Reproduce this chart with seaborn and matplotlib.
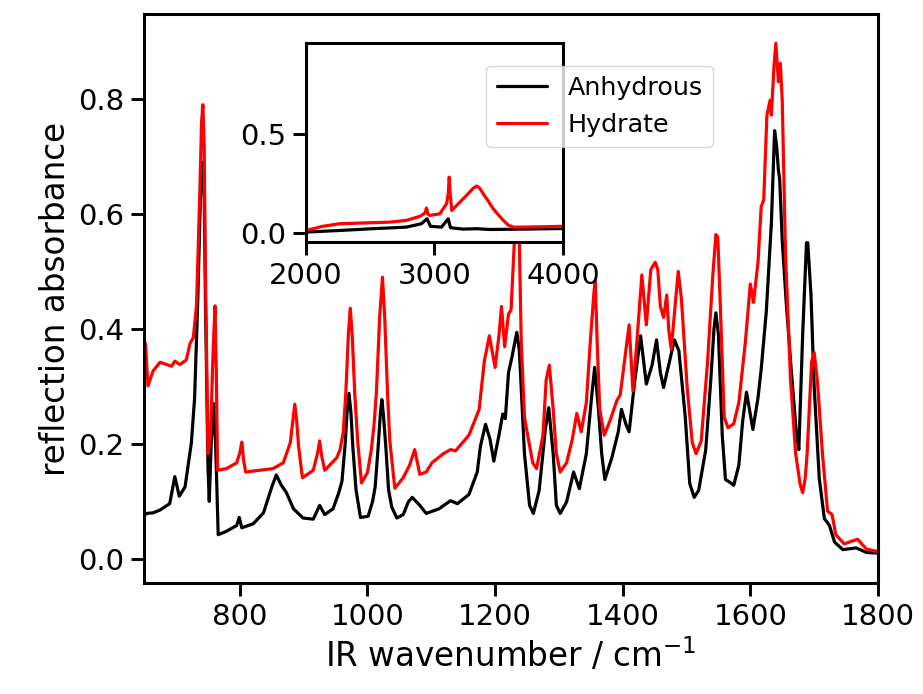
import numpy as np
import pandas as pd
import matplotlib
matplotlib.use("Agg")
import matplotlib.pyplot as plt
import seaborn as sns

# ---- data ----
wn_anhydrous = [650, 654, 664, 675, 690, 698, 705, 714, 724, 729, 734, 738, 740, 742, 744, 746,
                750, 752, 755, 759, 762, 766, 779, 795, 799, 803, 821, 837, 850, 857, 865, 873,
                884, 899, 915, 925, 933, 946, 955, 960, 965, 968, 971, 974, 977, 982, 989, 1001,
                1008, 1012, 1016.7, 1020, 1022.5, 1025, 1028.7, 1033, 1038, 1046, 1056, 1064,
                1070, 1082, 1092, 1112, 1130, 1141, 1159, 1172, 1177, 1185, 1192, 1198, 1206,
                1212, 1216, 1221, 1226, 1234, 1238, 1246, 1254, 1260, 1269, 1279, 1284, 1291,
                1296, 1302, 1312, 1323, 1332, 1343, 1351, 1356, 1362, 1367, 1372, 1383, 1393,
                1398, 1405, 1410, 1419, 1428, 1437, 1446, 1453, 1459, 1464, 1472, 1481, 1488,
                1498, 1505, 1512, 1519, 1530, 1538, 1543, 1546, 1550, 1556, 1561, 1568, 1574,
                1582, 1588, 1594, 1604, 1612, 1617, 1625, 1633, 1638, 1641, 1644, 1646, 1650,
                1656, 1664, 1672, 1676, 1682, 1688, 1690, 1695, 1700, 1708, 1716, 1724, 1732,
                1745, 1766, 1782, 1798, 1850, 1920,
                2000, 2260, 2521, 2781, 2898, 2943, 2969, 3055, 3107, 3125, 3224, 3328, 3432,
                3693, 4000]
abs_anhydrous = [0.075, 0.079, 0.080, 0.085, 0.096, 0.143, 0.109, 0.125, 0.202, 0.279, 0.45,
                 0.62, 0.67, 0.69, 0.64, 0.45, 0.16, 0.10, 0.20, 0.27, 0.20, 0.042, 0.048,
                 0.058, 0.072, 0.054, 0.061, 0.080, 0.125, 0.146, 0.128, 0.115, 0.087, 0.071,
                 0.069, 0.093, 0.077, 0.087, 0.115, 0.135, 0.20, 0.255, 0.288, 0.255, 0.195,
                 0.12, 0.072, 0.074, 0.10, 0.125, 0.195, 0.25, 0.277, 0.25, 0.195, 0.12, 0.09,
                 0.071, 0.077, 0.099, 0.107, 0.093, 0.079, 0.087, 0.101, 0.096, 0.112, 0.151,
                 0.196, 0.234, 0.208, 0.170, 0.215, 0.252, 0.244, 0.324, 0.349, 0.394, 0.362,
                 0.183, 0.093, 0.079, 0.119, 0.228, 0.263, 0.183, 0.093, 0.079, 0.099, 0.151,
                 0.122, 0.183, 0.279, 0.333, 0.26, 0.183, 0.138, 0.176, 0.221, 0.26, 0.234,
                 0.221, 0.311, 0.388, 0.304, 0.337, 0.381, 0.324, 0.298, 0.337, 0.381, 0.362,
                 0.247, 0.131, 0.107, 0.119, 0.189, 0.311, 0.40, 0.428, 0.39, 0.215, 0.138,
                 0.133, 0.128, 0.163, 0.24, 0.29, 0.225, 0.28, 0.33, 0.43, 0.585, 0.745, 0.72,
                 0.676, 0.66, 0.554, 0.45, 0.33, 0.22, 0.19, 0.39, 0.55, 0.55, 0.46, 0.30, 0.14,
                 0.07, 0.058, 0.029, 0.016, 0.019, 0.011, 0.010, 0.008, 0.006,
                 0.005, 0.013, 0.022, 0.030, 0.047, 0.072, 0.034, 0.030, 0.072, 0.027, 0.020,
                 0.022, 0.018, 0.020, 0.023]

wn_hydrate = [650, 652, 656, 664, 675, 693, 698, 706, 716, 722, 727, 732, 737, 740, 742, 744,
              746, 750, 754, 758, 761, 763, 765, 779, 795, 800, 803, 806, 809, 852, 868, 879,
              884, 886, 889, 892, 898, 915, 922, 925, 928, 933, 952, 957, 962, 966, 970, 973,
              976, 980, 984.6, 990.6, 1000, 1006, 1010, 1014, 1019, 1023.5, 1027, 1031.4, 1035,
              1042.8, 1056, 1066, 1074, 1082, 1092, 1101, 1119, 1130, 1138, 1159, 1175, 1183,
              1191, 1200, 1206, 1210, 1215, 1221, 1225, 1230, 1236, 1238, 1241, 1246, 1251,
              1259, 1265, 1275, 1280, 1285, 1291, 1296, 1302, 1312, 1321, 1328, 1335, 1343,
              1349, 1355, 1357, 1360, 1364, 1371, 1380, 1391, 1396, 1402, 1410, 1416, 1422,
              1430, 1437, 1444, 1451, 1455, 1459, 1464, 1469, 1472, 1476, 1481, 1487, 1492,
              1501, 1509, 1515, 1523, 1533, 1541, 1546, 1549, 1553, 1559, 1565, 1574, 1582,
              1592, 1600, 1605, 1612, 1617, 1621, 1626, 1631, 1633, 1637, 1640, 1644, 1647,
              1650, 1655, 1663, 1671, 1678, 1682, 1686, 1689, 1696, 1700, 1705, 1713, 1721,
              1728, 1734, 1747, 1768, 1782, 1798, 1850, 1920,
              2000, 2130, 2260, 2521, 2651, 2781, 2885, 2925, 2938, 2950, 2964, 3042, 3094,
              3108, 3115, 3122, 3135, 3172, 3250, 3300, 3328, 3350, 3380, 3420, 3458, 3500,
              3536, 3575, 3615, 3693, 4000]
abs_hydrate = [0.37, 0.375, 0.301, 0.327, 0.342, 0.335, 0.344, 0.338, 0.346, 0.375, 0.385, 0.44,
               0.63, 0.76, 0.79, 0.72, 0.50, 0.183, 0.215, 0.36, 0.44, 0.33, 0.154, 0.157, 0.167,
               0.185, 0.203, 0.17, 0.151, 0.157, 0.167, 0.202, 0.25, 0.269, 0.24, 0.196, 0.141,
               0.154, 0.185, 0.205, 0.18, 0.154, 0.176, 0.19, 0.22, 0.288, 0.39, 0.436, 0.39,
               0.288, 0.205, 0.132, 0.15, 0.19, 0.23, 0.29, 0.42, 0.49, 0.42, 0.288, 0.205,
               0.123, 0.141, 0.163, 0.19, 0.147, 0.151, 0.167, 0.183, 0.19, 0.188, 0.215, 0.26,
               0.343, 0.388, 0.333, 0.388, 0.439, 0.369, 0.426, 0.433, 0.548, 0.75, 0.55, 0.375,
               0.247, 0.215, 0.167, 0.157, 0.215, 0.311, 0.337, 0.26, 0.183, 0.151, 0.167,
               0.208, 0.253, 0.221, 0.272, 0.375, 0.465, 0.484, 0.375, 0.26, 0.215, 0.24, 0.276,
               0.285, 0.337, 0.407, 0.292, 0.375, 0.494, 0.407, 0.503, 0.516, 0.503, 0.439,
               0.42, 0.459, 0.40, 0.365, 0.426, 0.5, 0.452, 0.298, 0.202, 0.183, 0.205, 0.343,
               0.49, 0.564, 0.56, 0.439, 0.247, 0.228, 0.235, 0.272, 0.375, 0.478, 0.446, 0.516,
               0.612, 0.625, 0.772, 0.798, 0.772, 0.856, 0.897, 0.83, 0.862, 0.798, 0.535,
               0.311, 0.183, 0.13, 0.115, 0.14, 0.183, 0.343, 0.359, 0.311, 0.183, 0.083, 0.077,
               0.042, 0.026, 0.034, 0.017, 0.013, 0.012, 0.012,
               0.013, 0.034, 0.047, 0.052, 0.055, 0.064, 0.084, 0.10, 0.126, 0.095, 0.089,
               0.097, 0.148, 0.20, 0.282, 0.20, 0.114, 0.139, 0.19, 0.225, 0.237, 0.228, 0.198,
               0.16, 0.122, 0.09, 0.064, 0.04, 0.030, 0.030, 0.034]

series_names = ["Anhydrous", "Hydrate"]
series_colors = ["black", "red"]

df = pd.concat([
    pd.DataFrame({"wavenumber": wn_anhydrous, "absorbance": abs_anhydrous, "sample": series_names[0]}),
    pd.DataFrame({"wavenumber": wn_hydrate, "absorbance": abs_hydrate, "sample": series_names[1]}),
], ignore_index=True)
palette = dict(zip(series_names, series_colors))

# ---- style ----
sns.set_style("ticks", {"axes.edgecolor": "black", "xtick.color": "black",
                        "ytick.color": "black", "text.color": "black",
                        "axes.labelcolor": "black"})
plt.rcParams["font.family"] = ["DejaVu Sans"]
plt.rcParams["axes.linewidth"] = 2.2
for ax_ in ("xtick", "ytick"):
    plt.rcParams[f"{ax_}.major.size"] = 9.4
    plt.rcParams[f"{ax_}.major.width"] = 2.1
    plt.rcParams[f"{ax_}.major.pad"] = 5
    plt.rcParams[f"{ax_}.labelsize"] = 21

LW = 2.3

fig = plt.figure(figsize=(9.23, 6.94), dpi=100)
ax = fig.add_axes([0.1562, 0.16, 0.795, 0.8199])
sns.lineplot(data=df, x="wavenumber", y="absorbance", hue="sample", palette=palette,
             estimator=None, linewidth=LW, ax=ax, legend=False)
ax.set_xlim(650, 1800)
ax.set_ylim(-0.042, 0.948)
ax.set_xticks([800, 1000, 1200, 1400, 1600, 1800])
ax.set_yticks([0.0, 0.2, 0.4, 0.6, 0.8])
ax.set_xlabel("IR wavenumber / cm$^{-1}$", fontsize=23.5)
ax.set_ylabel("reflection absorbance", fontsize=23.5)

# inset
axin = fig.add_axes([0.3315, 0.6513, 0.2784, 0.2867])
sns.lineplot(data=df, x="wavenumber", y="absorbance", hue="sample", palette=palette,
             estimator=None, linewidth=LW, ax=axin)
axin.set_xlim(2000, 4000)
axin.set_ylim(-0.045, 0.958)
axin.set_xticks([2000, 3000, 4000])
axin.set_yticks([0.0, 0.5])
axin.set_xlabel("")
axin.set_ylabel("")
leg = axin.legend(loc="upper right", bbox_to_anchor=(1.584, 0.884), borderaxespad=0,
                  fontsize=18.3, frameon=True, fancybox=True, framealpha=0.8,
                  edgecolor="0.8", title=None)
for line in leg.get_lines():
    line.set_linewidth(LW)

fig.savefig("out.png", dpi=100)
